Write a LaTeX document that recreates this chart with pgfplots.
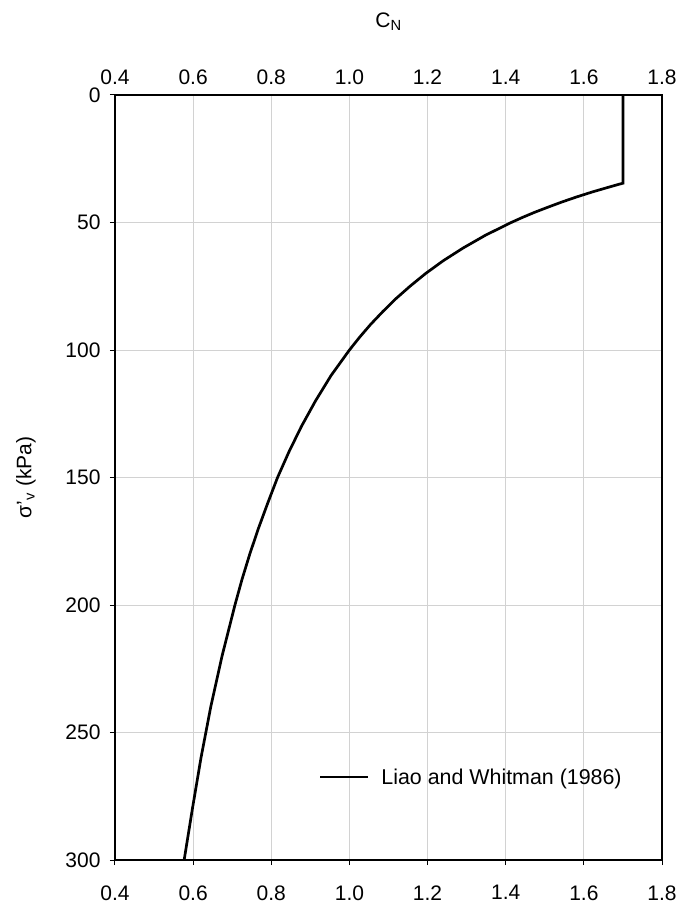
\documentclass[border=0pt]{standalone}
\usepackage{fontspec}
\setmainfont{Liberation Sans}
\usepackage{pgfplots}
\pgfplotsset{compat=1.18}
\definecolor{gridgray}{RGB}{210,210,210}
\begin{document}
\begin{tikzpicture}
\pgfplotsset{
  common/.style={
    scale only axis,
    width=547pt, height=765pt,
    xmin=0.4, xmax=1.8, ymin=0, ymax=300,
    y dir=reverse,
    xtick={0.4,0.6,0.8,1.0,1.2,1.4,1.6,1.8},
    /pgf/number format/assume math mode=true,
    xticklabel style={/pgf/number format/fixed,/pgf/number format/fixed zerofill,/pgf/number format/precision=1},
    tick label style={font=\fontsize{21}{25}\selectfont},
    label style={font=\fontsize{21}{25}\selectfont},
  }
}
\begin{axis}[common,
  ytick={0,50,100,150,200,250,300},
  xtick pos=bottom, ytick pos=left,
  tick align=outside,
  major tick length=5pt,
  tick style={black, line width=1pt},
  axis line style={black, line width=1.3pt},
  grid=major,
  major grid style={gridgray, line width=1pt},
  xticklabel style={yshift=-17pt},
  yticklabel style={xshift=-6pt},
  ylabel={σ'\textsubscript{v} (kPa)},
  ylabel style={at={(axis description cs:-0.1627,0.5)}, anchor=center},
  legend style={draw=none, fill=none, at={(axis description cs:0.372,0.1085)}, anchor=west, inner sep=0pt, font=\fontsize{21.4}{25}\selectfont},
  legend image code/.code={\draw[#1] (0pt,0pt) -- (48pt,0pt); \path (58pt,0pt);},
]
\addplot[black, line width=2.7pt] coordinates {
(1.700,0) (1.700,34.6) (1.690,35) (1.667,36) (1.622,38) (1.581,40) (1.543,42) (1.508,44) (1.474,46) (1.443,48) (1.414,50) (1.348,55) (1.291,60) (1.240,65) (1.195,70) (1.155,75) (1.118,80) (1.085,85) (1.054,90) (1.026,95) (1.000,100) (0.953,110) (0.913,120) (0.877,130) (0.845,140) (0.816,150) (0.791,160) (0.767,170) (0.745,180) (0.725,190) (0.707,200) (0.674,220) (0.645,240) (0.620,260) (0.598,280) (0.577,300)
};
\addlegendentry{Liao and Whitman (1986)}
\end{axis}
\begin{axis}[common,
  axis line style={draw=none},
  ytick=\empty,
  xticklabel pos=upper,
  major tick length=0pt,
  xlabel={C\textsubscript{N}},
  xlabel style={at={(axis description cs:0.5,1)}, anchor=center, yshift=73pt},
  xticklabel style={yshift=7pt},
]
\end{axis}
\pgfresetboundingbox
\path ([xshift=-115pt,yshift=-46pt]current axis.south west) rectangle ([xshift=17pt,yshift=95pt]current axis.north east);
\end{tikzpicture}
\end{document}
